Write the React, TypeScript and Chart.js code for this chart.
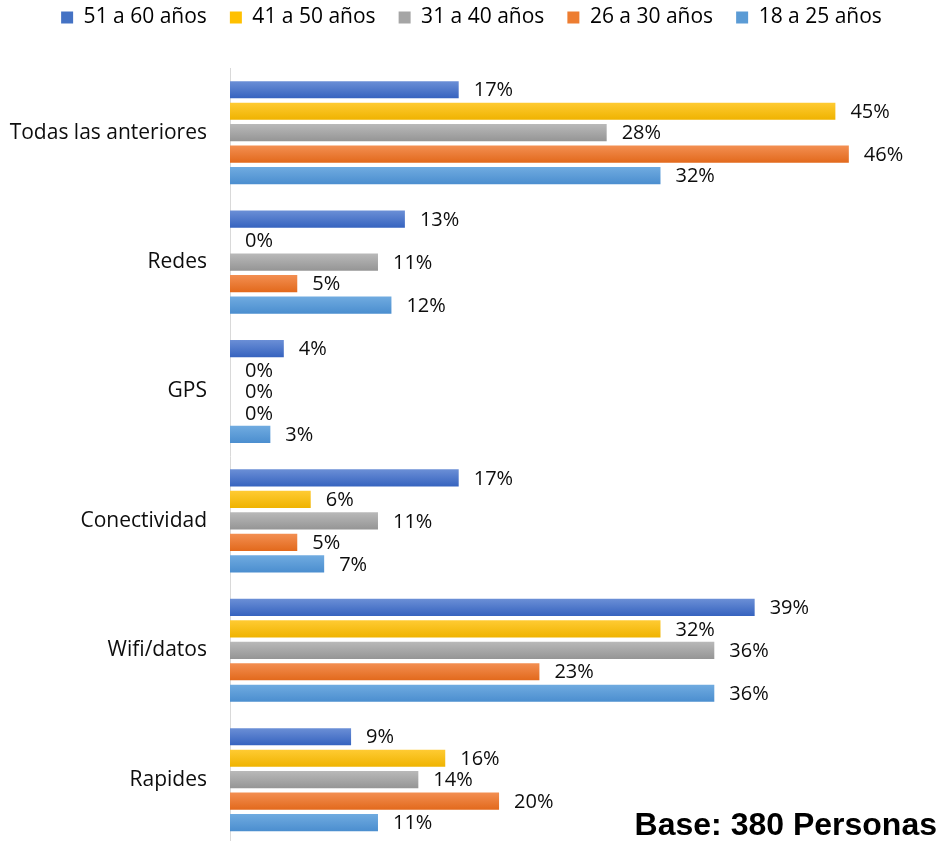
import React, { useEffect, useRef } from "react";
import { Chart, registerables } from "chart.js";

Chart.register(...registerables);

const categories = ["Todas las anteriores", "Redes", "GPS", "Conectividad", "Wifi/datos", "Rapides"];
const seriesNames = ["51 a 60 años", "41 a 50 años", "31 a 40 años", "26 a 30 años", "18 a 25 años"];
const s51a60 = [17, 13, 4, 17, 39, 9];
const s41a50 = [45, 0, 0, 6, 32, 16];
const s31a40 = [28, 11, 0, 11, 36, 14];
const s26a30 = [46, 5, 0, 5, 23, 20];
const s18a25 = [32, 12, 3, 7, 36, 11];
const seriesValues = [s51a60, s41a50, s31a40, s26a30, s18a25];
const baseText = "Base: 380 Personas";

const colorTop = ["#6b8fd6", "#ffcb33", "#b9b9b9", "#f38f52", "#70abe0"];
const colorBottom = ["#3663bf", "#efb300", "#959595", "#e2691c", "#4b8ecf"];
const colorMid = ["#4472c4", "#ffc000", "#a5a5a5", "#ed7d31", "#5b9bd5"];

const FONT = "'Open Sans', Lato, sans-serif";

const legendGapPlugin = {
  id: "legendGap",
  beforeInit(chart: any) {
    const legend = chart.legend;
    if (!legend) return;
    const origFit = legend.fit;
    legend.fit = function () {
      origFit.call(this);
      this.height += 30;
    };
  },
};

const gradientPlugin = {
  id: "gradientBars",
  beforeDatasetsDraw(chart: any) {
    const ctx = chart.ctx;
    chart.data.datasets.forEach((ds: any, i: number) => {
      const meta = chart.getDatasetMeta(i);
      meta.data.forEach((el: any) => {
        const h = el.height || 1;
        const g = ctx.createLinearGradient(0, el.y - h / 2, 0, el.y + h / 2);
        g.addColorStop(0, colorTop[i]);
        g.addColorStop(1, colorBottom[i]);
        el.options = Object.assign({}, el.options, { backgroundColor: g });
      });
    });
  },
};

const labelPlugin = {
  id: "valueLabels",
  afterDatasetsDraw(chart: any) {
    const ctx = chart.ctx;
    ctx.save();
    ctx.font = `20px ${FONT}`;
    ctx.fillStyle = "#0d0d0d";
    ctx.textAlign = "left";
    ctx.textBaseline = "middle";
    chart.data.datasets.forEach((ds: any, i: number) => {
      const meta = chart.getDatasetMeta(i);
      meta.data.forEach((el: any, j: number) => {
        ctx.fillText(`${ds.data[j]}%`, el.x + 15, el.y + 1);
      });
    });
    ctx.restore();
  },
};

export default function App() {
  const ref = useRef<HTMLCanvasElement>(null);
  useEffect(() => {
    if (!ref.current) return;
    const chart = new Chart(ref.current, {
      type: "bar",
      data: {
        labels: categories,
        datasets: seriesValues.map((vals, i) => ({
          label: seriesNames[i],
          data: vals,
          backgroundColor: (c: any) => colorMid[c.datasetIndex],
          borderWidth: 0,
          categoryPercentage: 0.83,
          barPercentage: 0.8,
        })),
      },
      options: {
        indexAxis: "y",
        responsive: false,
        animation: false,
        layout: { padding: { top: -16, bottom: 5, left: 0, right: 0 } },
        plugins: {
          tooltip: { enabled: false },
          legend: {
            position: "top",
            labels: {
              font: { family: FONT, size: 21 },
              color: "#0d0d0d",
              boxWidth: 12,
              boxHeight: 12,
              padding: 23,
              generateLabels: () =>
                seriesNames.map((n, i) => ({
                  text: n,
                  fillStyle: colorMid[i],
                  strokeStyle: colorMid[i],
                  lineWidth: 0,
                  hidden: false,
                  datasetIndex: i,
                })),
            },
          },
        },
        scales: {
          x: {
            display: false,
            min: 0,
            max: 53,
          },
          y: {
            grid: { display: false, drawTicks: false },
            border: { display: true, color: "#d9d9d9", width: 1 },
            ticks: {
              font: { family: FONT, size: 21 },
              color: "#0d0d0d",
              padding: 23,
            },
            afterFit: (scale: any) => {
              scale.width = 230;
            },
          },
        },
      },
      plugins: [legendGapPlugin, gradientPlugin, labelPlugin],
    });
    return () => chart.destroy();
  }, []);
  return (
    <div style={{ position: "fixed", left: 0, top: 0, width: 943, height: 841, overflow: "hidden", background: "#fff" }}>
      <canvas ref={ref} width={943} height={880} style={{ width: 943, height: 880, display: "block" }} />
      <div
        style={{
          position: "absolute",
          right: 6,
          top: 806,
          fontFamily: "'Liberation Sans', Arial, sans-serif",
          fontWeight: "bold",
          fontSize: 32,
          lineHeight: "normal",
          color: "#000",
          whiteSpace: "nowrap",
        }}
      >
        {baseText}
      </div>
    </div>
  );
}
